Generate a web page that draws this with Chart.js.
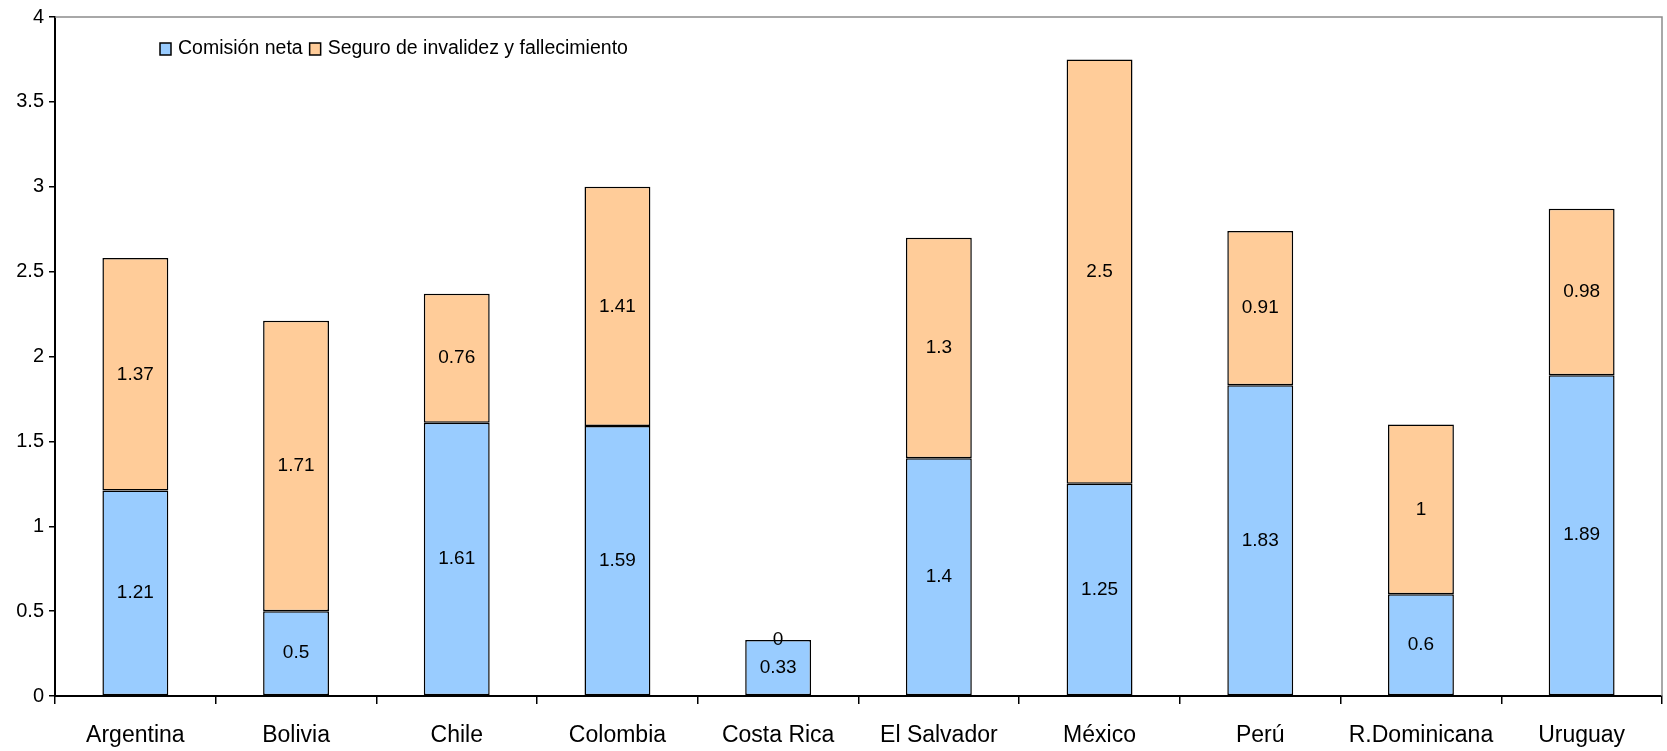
<!DOCTYPE html>
<html>
<head>
<meta charset="utf-8">
<script src="https://cdn.jsdelivr.net/npm/chart.js@4/dist/chart.umd.min.js"></script>
<style>
  html, body { margin: 0; padding: 0; background: #fff; }
  #wrap { width: 1667px; height: 751px; }
</style>
</head>
<body>
<div id="wrap"><canvas id="chart1"></canvas></div>
<script>
const paises = ["Argentina", "Bolivia", "Chile", "Colombia", "Costa Rica", "El Salvador", "México", "Perú", "R.Dominicana", "Uruguay"];
const comisionNeta = [1.21, 0.5, 1.61, 1.59, 0.33, 1.4, 1.25, 1.83, 0.6, 1.89];
const seguro = [1.37, 1.71, 0.76, 1.41, 0, 1.3, 2.5, 0.91, 1, 0.98];
const yTicks = [0, 0.5, 1, 1.5, 2, 2.5, 3, 3.5, 4];

const FONT = "'Liberation Sans', Arial, sans-serif";

// labels in the middle of each segment + legend + gray frame
const extras = {
  id: "extras",
  afterDatasetsDraw(chart) {
    const { ctx, chartArea: { top, right, left, bottom } } = chart;
    ctx.save();
    // frame top / right
    ctx.strokeStyle = "#8c8c8c";
    ctx.lineWidth = 1.5;
    ctx.beginPath();
    ctx.moveTo(left, top);
    ctx.lineTo(right, top);
    ctx.lineTo(right, bottom);
    ctx.stroke();

    ctx.fillStyle = "#000";
    ctx.font = "19px " + FONT;
    ctx.textAlign = "center";
    ctx.textBaseline = "middle";
    chart.data.datasets.forEach((ds, i) => {
      chart.getDatasetMeta(i).data.forEach((bar, j) => {
        const y = (bar.y + bar.base) / 2;
        ctx.fillText(String(ds.data[j]), bar.x, y);
      });
    });

    // legend
    let x = 160;
    const ly = 49;
    ctx.font = "19.5px " + FONT;
    ctx.textAlign = "left";
    chart.data.datasets.forEach((ds) => {
      ctx.fillStyle = ds.backgroundColor;
      ctx.fillRect(x, ly - 6, 11, 12);
      ctx.strokeStyle = "#000";
      ctx.lineWidth = 1.5;
      ctx.strokeRect(x, ly - 6, 11, 12);
      ctx.fillStyle = "#000";
      ctx.fillText(ds.label, x + 18, ly);
      x += 18 + ctx.measureText(ds.label).width + 7;
    });
    ctx.restore();
  },
};

new Chart(document.getElementById("chart1"), {
  type: "bar",
  data: {
    labels: paises,
    datasets: [
      {
        label: "Comisión neta",
        data: comisionNeta,
        backgroundColor: "#99ccff",
        borderColor: "#000",
        borderWidth: 1.5,
        borderSkipped: false,
      },
      {
        label: "Seguro de invalidez y fallecimiento",
        data: seguro,
        backgroundColor: "#ffcc99",
        borderColor: "#000",
        borderWidth: 1.5,
        borderSkipped: false,
      },
    ],
  },
  options: {
    responsive: true,
    maintainAspectRatio: false,
    animation: false,
    layout: { padding: { top: 16, right: 5, left: 0, bottom: 0 } },
    datasets: { bar: { categoryPercentage: 0.41, barPercentage: 1 } },
    plugins: { legend: { display: false }, tooltip: { enabled: false } },
    scales: {
      x: {
        stacked: true,
        afterFit(scale) { scale.height = 55; },
        grid: {
          offset: true,
          drawOnChartArea: false,
          drawTicks: true,
          tickLength: 8,
          color: "#000",
          lineWidth: 1.5,
        },
        border: { color: "#000", width: 2 },
        ticks: { color: "#000", font: { family: FONT, size: 23 }, padding: 18, maxRotation: 0, autoSkip: false },
      },
      y: {
        stacked: true,
        min: 0,
        max: 4,
        afterFit(scale) { scale.width = 55; },
        afterBuildTicks(scale) { scale.ticks = yTicks.map((v) => ({ value: v })); },
        grid: {
          drawOnChartArea: false,
          drawTicks: true,
          tickLength: 6,
          color: "#000",
          lineWidth: 1.5,
        },
        border: { color: "#000", width: 2 },
        ticks: {
          color: "#000",
          font: { family: FONT, size: 20 },
          padding: 5,
          callback: (v) => String(v),
        },
      },
    },
  },
  plugins: [extras],
});
</script>
</body>
</html>
